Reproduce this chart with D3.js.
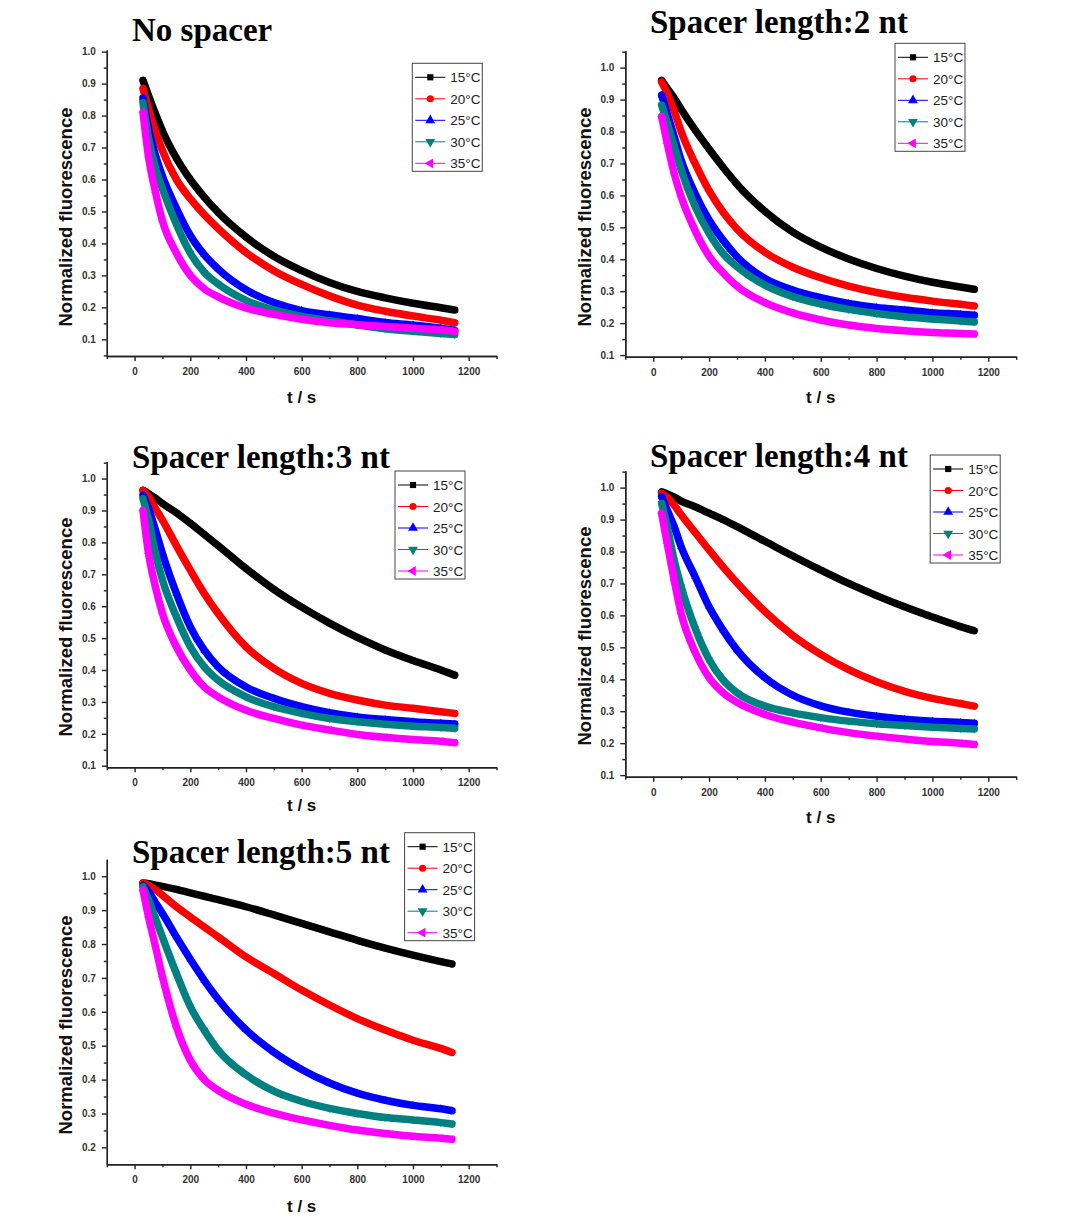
<!DOCTYPE html>
<html>
<head>
<meta charset="utf-8">
<script src="https://cdn.jsdelivr.net/npm/d3@7"></script>
<style>
  body { margin: 0; background: #fff; }
  svg { display: block; }
  .tick text { font-family: "Liberation Sans", Arial, sans-serif; font-weight: bold; font-size: 10px; fill: #333; }
  .axis path, .axis line { stroke: #222; stroke-width: 1.4; }
</style>
</head>
<body>
<svg id="chart" width="1083" height="1225"></svg>
<script>
// Fluorescence decay at five temperatures, one panel per spacer length.

const temps = ["15°C", "20°C", "25°C", "30°C", "35°C"];
const colors = ["#000000", "#ff0000", "#0000ff", "#008080", "#ff00ff"];

const times = [30, 50, 75, 100, 150, 200, 250, 300, 400, 500, 600, 700, 800, 900, 1000, 1100, 1150];
const times5 = [30, 50, 75, 100, 150, 200, 250, 300, 400, 500, 600, 700, 800, 900, 1000, 1100, 1140];

const noSpacer = [
  [0.91, 0.862, 0.805, 0.752, 0.667, 0.6, 0.545, 0.497, 0.42, 0.36, 0.315, 0.278, 0.25, 0.23, 0.213, 0.199, 0.192],
  [0.885, 0.82, 0.75, 0.69, 0.6, 0.54, 0.49, 0.447, 0.372, 0.315, 0.272, 0.236, 0.207, 0.188, 0.173, 0.16, 0.152],
  [0.855, 0.76, 0.675, 0.61, 0.51, 0.425, 0.365, 0.32, 0.255, 0.215, 0.19, 0.177, 0.165, 0.153, 0.145, 0.135, 0.128],
  [0.84, 0.73, 0.635, 0.57, 0.46, 0.37, 0.31, 0.273, 0.222, 0.192, 0.172, 0.158, 0.145, 0.133, 0.125, 0.118, 0.115],
  [0.81, 0.67, 0.56, 0.47, 0.37, 0.3, 0.258, 0.233, 0.198, 0.178, 0.163, 0.152, 0.146, 0.14, 0.135, 0.13, 0.125],
];

const spacer2 = [
  [0.96, 0.935, 0.905, 0.87, 0.805, 0.745, 0.688, 0.635, 0.55, 0.485, 0.438, 0.401, 0.371, 0.347, 0.328, 0.313, 0.306],
  [0.955, 0.92, 0.865, 0.8, 0.7, 0.615, 0.548, 0.495, 0.422, 0.375, 0.342, 0.316, 0.296, 0.281, 0.269, 0.259, 0.254],
  [0.914, 0.857, 0.784, 0.71, 0.606, 0.523, 0.46, 0.408, 0.34, 0.304, 0.28, 0.262, 0.249, 0.241, 0.233, 0.228, 0.225],
  [0.883, 0.826, 0.753, 0.68, 0.565, 0.481, 0.418, 0.377, 0.319, 0.283, 0.26, 0.243, 0.23, 0.22, 0.213, 0.207, 0.204],
  [0.847, 0.763, 0.669, 0.596, 0.49, 0.41, 0.358, 0.316, 0.264, 0.232, 0.21, 0.194, 0.183, 0.176, 0.171, 0.168, 0.166],
];

const spacer3 = [
  [0.963, 0.953, 0.938, 0.922, 0.893, 0.86, 0.825, 0.79, 0.718, 0.653, 0.597, 0.547, 0.502, 0.463, 0.43, 0.4, 0.384],
  [0.963, 0.943, 0.906, 0.87, 0.79, 0.713, 0.64, 0.577, 0.473, 0.405, 0.358, 0.327, 0.306, 0.29, 0.28, 0.269, 0.264],
  [0.948, 0.906, 0.838, 0.765, 0.64, 0.535, 0.462, 0.41, 0.347, 0.311, 0.285, 0.266, 0.253, 0.245, 0.238, 0.233, 0.231],
  [0.937, 0.87, 0.765, 0.682, 0.567, 0.473, 0.41, 0.368, 0.316, 0.285, 0.264, 0.248, 0.238, 0.23, 0.224, 0.22, 0.217],
  [0.9, 0.765, 0.66, 0.577, 0.473, 0.4, 0.347, 0.316, 0.274, 0.248, 0.227, 0.212, 0.198, 0.189, 0.182, 0.177, 0.172],
];

const spacer4 = [
  [0.987, 0.98, 0.97, 0.958, 0.94, 0.92, 0.9, 0.878, 0.832, 0.786, 0.742, 0.7, 0.662, 0.627, 0.595, 0.565, 0.552],
  [0.982, 0.97, 0.945, 0.915, 0.86, 0.805, 0.752, 0.702, 0.612, 0.537, 0.478, 0.43, 0.392, 0.362, 0.34, 0.324, 0.316],
  [0.972, 0.93, 0.878, 0.815, 0.721, 0.627, 0.554, 0.492, 0.405, 0.35, 0.317, 0.297, 0.284, 0.275, 0.269, 0.265, 0.262],
  [0.951, 0.878, 0.773, 0.69, 0.56, 0.462, 0.398, 0.358, 0.316, 0.295, 0.28, 0.269, 0.261, 0.255, 0.25, 0.246, 0.244],
  [0.92, 0.826, 0.711, 0.606, 0.485, 0.405, 0.358, 0.328, 0.29, 0.266, 0.248, 0.233, 0.222, 0.213, 0.205, 0.2, 0.196],
];

const spacer5 = [
  [0.98, 0.978, 0.974, 0.97, 0.961, 0.951, 0.941, 0.931, 0.91, 0.886, 0.861, 0.836, 0.811, 0.788, 0.767, 0.748, 0.741],
  [0.98, 0.973, 0.96, 0.944, 0.91, 0.88, 0.85, 0.821, 0.762, 0.713, 0.664, 0.62, 0.58, 0.546, 0.516, 0.492, 0.48],
  [0.973, 0.954, 0.922, 0.89, 0.821, 0.755, 0.693, 0.637, 0.547, 0.481, 0.43, 0.39, 0.36, 0.339, 0.324, 0.314, 0.308],
  [0.969, 0.93, 0.875, 0.82, 0.713, 0.615, 0.546, 0.487, 0.414, 0.366, 0.336, 0.315, 0.3, 0.288, 0.281, 0.273, 0.269],
  [0.959, 0.88, 0.792, 0.703, 0.556, 0.457, 0.4, 0.368, 0.327, 0.301, 0.281, 0.265, 0.251, 0.241, 0.233, 0.227, 0.224],
];

const xMajor = [0, 200, 400, 600, 800, 1000, 1200];
const xMinor = [-100, 100, 300, 500, 700, 900, 1100, 1300];
const yMajorA = [0.1, 0.2, 0.3, 0.4, 0.5, 0.6, 0.7, 0.8, 0.9, 1.0];
const yMajorB = [0.2, 0.3, 0.4, 0.5, 0.6, 0.7, 0.8, 0.9, 1.0];
const yMinorA = [0.05, 0.15, 0.25, 0.35, 0.45, 0.55, 0.65, 0.75, 0.85, 0.95];
const yMinorB = [0.15, 0.25, 0.35, 0.45, 0.55, 0.65, 0.75, 0.85, 0.95, 1.05];

// layout of each panel (pixels)
const panels = [
  { title: "No spacer", values: noSpacer, t: times, x0: 106.8, x1: 496.5, y0: 50, y1: 356,
    yDomain: [0.048, 1.005], yMajor: yMajorA, yMinor: yMinorA, titleX: 132, titleY: 41,
    legX: 412.3, legY: 63.3, yLabX: 72, yLabY: 217, xLabY: 403 },
  { title: "Spacer length:2 nt", values: spacer2, t: times, x0: 625.3, x1: 1016.2, y0: 50.7, y1: 356.7,
    yDomain: [0.095, 1.053], yMajor: yMajorA, yMinor: yMinorB, titleX: 650, titleY: 33,
    legX: 895, legY: 43.3, yLabX: 591, yLabY: 217, xLabY: 403 },
  { title: "Spacer length:3 nt", values: spacer3, t: times, x0: 106.8, x1: 496.5, y0: 461.7, y1: 767.3,
    yDomain: [0.095, 1.053], yMajor: yMajorA, yMinor: yMinorB, titleX: 132, titleY: 468,
    legX: 395, legY: 471, yLabX: 72, yLabY: 627, xLabY: 811 },
  { title: "Spacer length:4 nt", values: spacer4, t: times, x0: 625.3, x1: 1016.2, y0: 470.7, y1: 776.7,
    yDomain: [0.095, 1.053], yMajor: yMajorA, yMinor: yMinorB, titleX: 650, titleY: 467,
    legX: 930.2, legY: 455, yLabX: 591, yLabY: 636, xLabY: 823 },
  { title: "Spacer length:5 nt", values: spacer5, t: times5, x0: 106.8, x1: 496.5, y0: 859.3, y1: 1164.3,
    yDomain: [0.15, 1.05], yMajor: yMajorB, yMinor: yMinorA.filter((v) => v > 0.15), titleX: 132, titleY: 863,
    legX: 404.6, legY: 832.7, yLabX: 72, yLabY: 1025, xLabY: 1212 },
];

const symbolFor = (i, big) => {
  const types = [d3.symbolSquare, d3.symbolCircle, d3.symbolTriangle, d3.symbolTriangle, d3.symbolTriangle];
  const sizes = big ? [38, 40, 42, 42, 42] : [30, 30, 26, 26, 26];
  return d3.symbol().type(types[i]).size(sizes[i])();
};
const rotationFor = (i) => (i === 3 ? 180 : i === 4 ? -90 : 0);

const svg = d3.select("#chart");

const drawPanel = (p) => {
  const x = d3.scaleLinear().domain([-100, 1300]).range([p.x0, p.x1]);
  const y = d3.scaleLinear().domain(p.yDomain).range([p.y1, p.y0]);
  const g = svg.append("g");

  // series: thick band of dense points + markers
  p.values.forEach((vals, i) => {
    const pts = p.t.map((t, k) => [t, vals[k]]);
    const line = d3.line()
      .x((d) => x(d[0]))
      .y((d) => y(d[1]))
      .curve(d3.curveMonotoneX);

    g.append("path")
      .attr("d", line(pts))
      .attr("fill", "none")
      .attr("stroke", colors[i])
      .attr("stroke-width", 7.5)
      .attr("stroke-linejoin", "round")
      .attr("stroke-linecap", "round");

    g.selectAll(null)
      .data(pts)
      .enter()
      .append("path")
      .attr("d", symbolFor(i, false))
      .attr("fill", colors[i])
      .attr("transform", (d) => `translate(${x(d[0])},${y(d[1])}) rotate(${rotationFor(i)})`);
  });

  // axes
  g.append("g")
    .attr("class", "axis")
    .attr("transform", `translate(0,${p.y1})`)
    .call(d3.axisBottom(x).tickValues(xMinor).tickSize(3).tickSizeOuter(0).tickFormat(""));
  g.append("g")
    .attr("class", "axis")
    .attr("transform", `translate(0,${p.y1})`)
    .call(d3.axisBottom(x).tickValues(xMajor).tickSize(5).tickSizeOuter(0).tickPadding(7).tickFormat(d3.format("d")));

  g.append("g")
    .attr("class", "axis")
    .attr("transform", `translate(${p.x0},0)`)
    .call(d3.axisLeft(y).tickValues(p.yMinor).tickSize(3).tickSizeOuter(0).tickFormat(""));
  g.append("g")
    .attr("class", "axis")
    .attr("transform", `translate(${p.x0},0)`)
    .call(d3.axisLeft(y).tickValues(p.yMajor).tickSize(5).tickSizeOuter(0).tickPadding(6).tickFormat(d3.format(".1f")));

  // labels
  g.append("text")
    .attr("transform", `translate(${p.yLabX},${p.yLabY}) rotate(-90)`)
    .attr("text-anchor", "middle")
    .style("font-family", "'Liberation Sans', Arial, sans-serif")
    .style("font-weight", "bold")
    .style("font-size", "18.5px")
    .style("fill", "#111")
    .text("Normalized fluorescence");

  g.append("text")
    .attr("x", (p.x0 + p.x1) / 2)
    .attr("y", p.xLabY)
    .attr("text-anchor", "middle")
    .style("font-family", "'Liberation Sans', Arial, sans-serif")
    .style("font-weight", "bold")
    .style("font-size", "17px")
    .style("fill", "#111")
    .text("t / s");

  g.append("text")
    .attr("x", p.titleX)
    .attr("y", p.titleY)
    .style("font-family", "'Liberation Serif', 'Times New Roman', serif")
    .style("font-weight", "bold")
    .style("font-size", "33px")
    .style("fill", "#000")
    .text(p.title);

  // legend
  const leg = g.append("g").attr("transform", `translate(${p.legX},${p.legY})`);
  leg.append("rect")
    .attr("width", 70)
    .attr("height", 108)
    .attr("fill", "#fff")
    .attr("stroke", "#444")
    .attr("stroke-width", 1);

  const items = leg.selectAll(".item")
    .data(temps)
    .enter()
    .append("g")
    .attr("class", "item")
    .attr("transform", (d, i) => `translate(0,${14 + i * 21.5})`);

  items.append("line")
    .attr("x1", 3)
    .attr("x2", 33)
    .attr("stroke", (d, i) => colors[i])
    .attr("stroke-width", 1);
  items.append("path")
    .attr("d", (d, i) => symbolFor(i, true))
    .attr("fill", (d, i) => colors[i])
    .attr("transform", (d, i) => `translate(18,0) rotate(${rotationFor(i)})`);
  items.append("text")
    .attr("x", 38)
    .attr("y", 5)
    .style("font-family", "'Liberation Sans', Arial, sans-serif")
    .style("font-size", "13.5px")
    .style("fill", "#222")
    .text((d) => d);
};

panels.forEach(drawPanel);
</script>
</body>
</html>
